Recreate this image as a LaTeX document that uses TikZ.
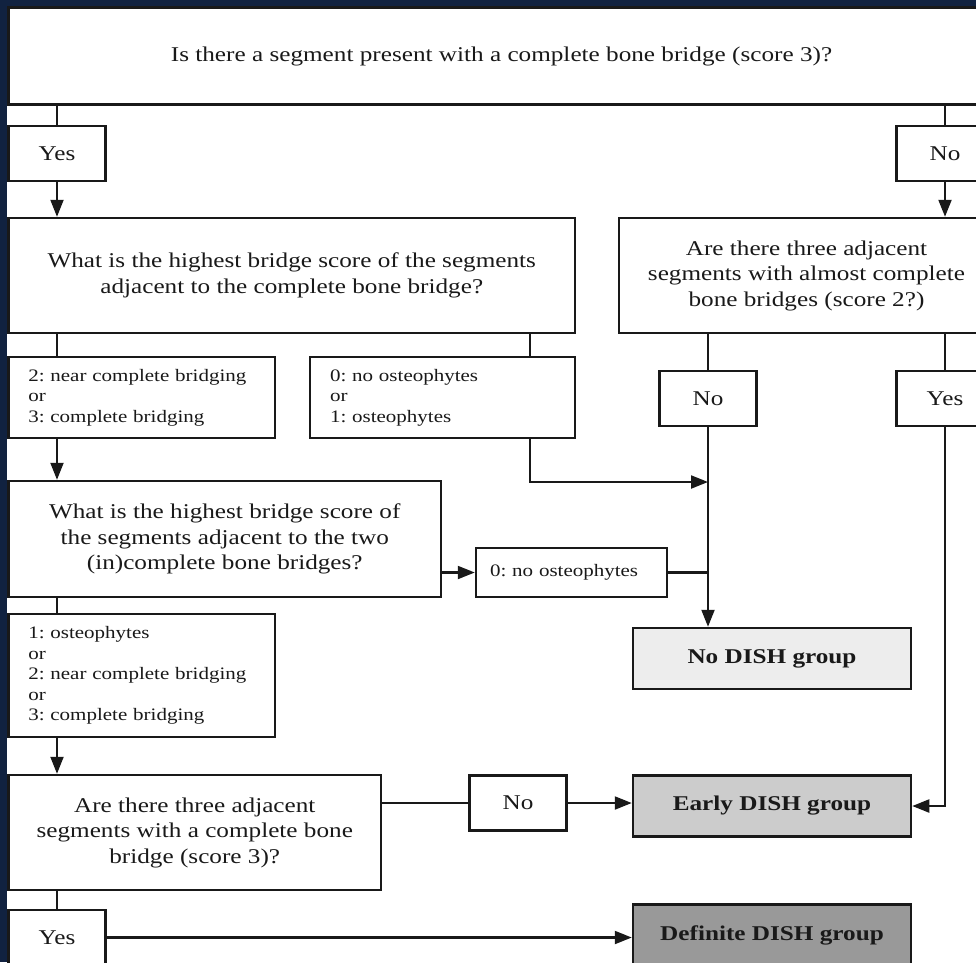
\documentclass[tikz,border=0pt]{standalone}
\usepackage{fontspec}
\setmainfont{Liberation Serif}[FakeStretch=1.2]
\usetikzlibrary{arrows.meta}
\definecolor{navy}{RGB}{17,34,64}
\definecolor{ink}{RGB}{25,25,25}
\frenchspacing

\begin{document}
\begin{tikzpicture}[x=1pt, y=-1pt,
  box/.style={draw=ink, line width=2.5pt, fill=white, inner sep=0pt, align=center, text=ink, font=\fontsize{21}{25.5}\selectfont},
  opt/.style={box, align=left, font=\fontsize{17.5}{20.5}\selectfont},
  yn/.style={box, minimum width=97pt, minimum height=55pt},
  grp/.style={box, minimum width=278pt, minimum height=61pt, font=\fontsize{21}{25}\selectfont\bfseries},
  link/.style={draw=ink, line width=2.1pt},
  arr/.style={link, -{Triangle[length=17pt, width=13pt]}}]
  \useasboundingbox (0,0) rectangle (976,962);
  \fill[navy] (0,0) rectangle (976,962);
  \fill[white] (7,6) rectangle (976,962);
  \clip (7,6) rectangle (976,962);

  \node[box, minimum width=986pt, minimum height=97pt] (q1) at (501.5,56) {Is there a segment present with a complete bone bridge (score 3)?};
  \node[yn] (yesA) at (57,153.5) {Yes};
  \node[yn] (noA) at (945,153.5) {No};
  \node[box, minimum width=566.5pt, minimum height=115pt] (q2) at (291.75,275.5) {What is the highest bridge score of the segments\\adjacent to the complete bone bridge?};
  \node[box, minimum width=375pt, minimum height=115pt] (q2b) at (806.5,275.5) {Are there three adjacent\\segments with almost complete\\bone bridges (score 2?)};
  \node[opt, minimum width=266.5pt, minimum height=81pt, text width=227pt] (a1) at (141.75,397.5) {2: near complete bridging\\or\\3: complete bridging};
  \node[opt, minimum width=265pt, minimum height=81pt, text width=225pt] (a2) at (442.5,397.5) {0: no osteophytes\\or\\1: osteophytes};
  \node[yn] (noB) at (708,398.5) {No};
  \node[yn] (yesB) at (945,398.5) {Yes};
  \node[box, minimum width=432.5pt, minimum height=116pt] (q3) at (224.75,539) {What is the highest bridge score of\\the segments adjacent to the two\\(in)complete bone bridges?};
  \node[opt, minimum width=191pt, minimum height=49pt, text width=163pt] (a4) at (571.5,572.5) {0: no osteophytes};
  \node[opt, minimum width=266.5pt, minimum height=123pt, text width=227pt] (a3) at (141.75,675.5) {1: osteophytes\\or\\2: near complete bridging\\or\\3: complete bridging};
  \node[grp, fill=black!7] (nodish) at (772,658.5) {No DISH group};
  \node[box, minimum width=372.5pt, minimum height=115pt] (q4) at (194.75,832.5) {Are there three adjacent\\segments with a complete bone\\bridge (score 3)?};
  \node[yn] (noC) at (518,803) {No};
  \node[grp, fill=black!20] (early) at (772,806) {Early DISH group};
  \node[yn] (yesC) at (57,937.5) {Yes};
  \node[grp, fill=black!40] (definite) at (772,935) {Definite DISH group};

  \coordinate (j1) at (530,482);
  \draw[link] (q1.south -| yesA) -- (yesA);
  \draw[arr] (yesA) -- (q2.north -| yesA);
  \draw[link] (q1.south -| noA) -- (noA);
  \draw[arr] (noA) -- (q2b.north -| noA);
  \draw[link] (q2.south -| yesA) -- (a1.north -| yesA);
  \draw[link] (q2.south -| j1) -- (a2.north -| j1);
  \draw[arr] (a1.south -| yesA) -- (q3.north -| yesA);
  \draw[arr] (a2.south -| j1) |- (noB |- j1);
  \draw[link] (q2b.south -| noB) -- (noB);
  \draw[link] (q2b.south -| yesB) -- (yesB);
  \draw[arr] (noB) -- (nodish.north -| noB);
  \draw[arr] (q3.east |- a4) -- (a4);
  \draw[link] (a4) -- (a4 -| noB);
  \draw[link] (q3.south -| yesA) -- (a3.north -| yesA);
  \draw[arr] (a3.south -| yesA) -- (q4.north -| yesA);
  \draw[arr] (yesB) |- (early.east);
  \draw[link] (q4.east |- noC) -- (noC);
  \draw[arr] (noC) -- (early.west |- noC);
  \draw[link] (q4.south -| yesA) -- (yesC);
  \draw[arr] (yesC) -- (definite.west |- yesC);
\end{tikzpicture}
\end{document}
